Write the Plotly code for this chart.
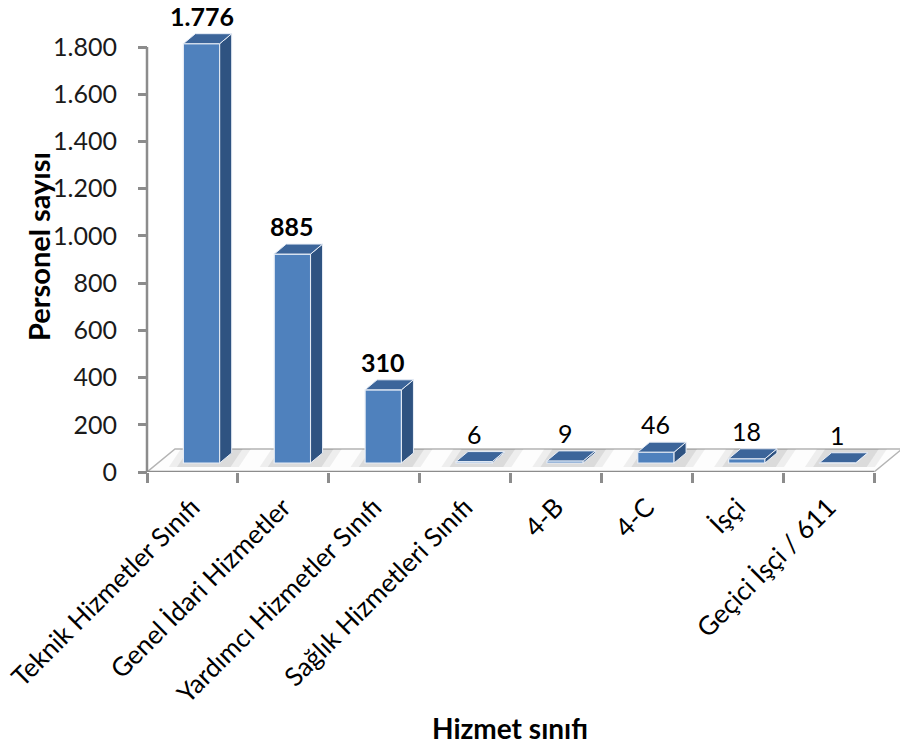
import plotly.graph_objects as go

# ---- data -------------------------------------------------------------
categories = [
    "Teknik Hizmetler Sınıfı",
    "Genel İdari Hizmetler",
    "Yardımcı Hizmetler Sınıfı",
    "Sağlık Hizmetleri Sınıfı",
    "4-B",
    "4-C",
    "İşçi",
    "Geçici İşçi / 611",
]
personnel = [1776, 885, 310, 6, 9, 46, 18, 1]
y_ticks = [0, 200, 400, 600, 800, 1000, 1200, 1400, 1600, 1800]

# ---- geometry (axis units) --------------------------------------------
X_RANGE = [-0.621, 7.786]
Y_RANGE = [0, 1978]
PX_X = 764 / (X_RANGE[1] - X_RANGE[0])      # pixels per category unit
PX_Y = 467 / (Y_RANGE[1] - Y_RANGE[0])      # pixels per value unit

BAR_W = 0.40            # front face width
BAR_SHIFT = 0.10        # front face centre offset from category centre
LIFT = 9 / PX_Y         # bars stand slightly behind the front floor edge
DEP_X = 12 / PX_X       # bar depth (oblique projection)
DEP_Y = 10 / PX_Y
FLOOR_X = 28 / PX_X     # floor depth
FLOOR_Y = 23 / PX_Y

FRONT = "#4F81BD"
SIDE = "#2F5381"
TOP = "#3C659A"
AXIS = "#8C8C8C"
FONT = "Lato"

fig = go.Figure()

# ---- floor and axis lines (shapes below the bars) ----------------------
n = len(categories)
x_left, x_right = -0.5, n - 0.5
shapes = [
    dict(type="path", xref="x", yref="y", layer="below",
         path=(f"M {x_left} 0 L {x_right} 0 L {x_right + FLOOR_X} {FLOOR_Y} "
               f"L {x_left + FLOOR_X} {FLOOR_Y} Z"),
         fillcolor="#FDFDFD", line=dict(color="#B4B4B4", width=1.5)),
    dict(type="line", xref="x", yref="y", layer="below",
         x0=x_left, x1=x_right, y0=0, y1=0,
         line=dict(color=AXIS, width=2.5)),
    dict(type="line", xref="x", yref="y", layer="below",
         x0=x_left, x1=x_left, y0=0, y1=y_ticks[-1],
         line=dict(color=AXIS, width=2.5)),
]

# soft shadows cast on the floor around each bar
for i in range(n):
    xl = i + BAR_SHIFT - BAR_W / 2
    xr = xl + BAR_W
    for grow, alpha in ((0.16, 0.09), (0.07, 0.13)):
        y_lo = LIFT - 4 / PX_Y
        y_hi = LIFT + DEP_Y + 4 / PX_Y
        shapes.append(dict(
            type="path", xref="x", yref="y", layer="below",
            path=(f"M {xl - grow} {y_lo} L {xr + grow + 0.05} {y_lo} "
                  f"L {xr + DEP_X + grow + 0.05} {y_hi} L {xl + DEP_X - grow} {y_hi} Z"),
            fillcolor=f"rgba(90,90,90,{alpha})", line=dict(width=0)))

# ---- bars: front faces --------------------------------------------------
fig.add_trace(go.Bar(
    x=list(range(n)), y=personnel, base=LIFT,
    width=BAR_W, offset=BAR_SHIFT - BAR_W / 2,
    marker=dict(color=FRONT, line=dict(color="#E8EEF7", width=1.2)),
    hoverinfo="skip", showlegend=False,
))

# ---- bars: side and top faces ------------------------------------------
for i, v in enumerate(personnel):
    xl = i + BAR_SHIFT - BAR_W / 2
    xr = xl + BAR_W
    yb, yt = LIFT, LIFT + v
    fig.add_trace(go.Scatter(
        x=[xr, xr + DEP_X, xr + DEP_X, xr, xr],
        y=[yb, yb + DEP_Y, yt + DEP_Y, yt, yb],
        fill="toself", fillcolor=SIDE, mode="lines",
        line=dict(color="#E8EEF7", width=1),
        hoverinfo="skip", showlegend=False))
    fig.add_trace(go.Scatter(
        x=[xl, xr, xr + DEP_X, xl + DEP_X, xl],
        y=[yt, yt, yt + DEP_Y, yt + DEP_Y, yt],
        fill="toself", fillcolor=TOP, mode="lines",
        line=dict(color="#E8EEF7", width=1),
        hoverinfo="skip", showlegend=False))

# ---- value labels -------------------------------------------------------
annotations = []
for i, v in enumerate(personnel):
    txt = f"{v:,}".replace(",", ".")
    if v >= 100:
        txt = f"<b>{txt}</b>"
    annotations.append(dict(
        x=i + BAR_SHIFT, y=LIFT + v + DEP_Y, xref="x", yref="y",
        text=txt, showarrow=False, xanchor="center", yanchor="bottom", yshift=1,
        font=dict(family=FONT, size=25, color="#000000")))

# axis titles
annotations.append(dict(
    x=(510 - 136) / 764, y=1 - (728 - 5) / 467, xref="paper", yref="paper",
    xanchor="center", yanchor="middle",
    text="<b>Hizmet sınıfı</b>", showarrow=False,
    font=dict(family=FONT, size=28, color="#000000")))
annotations.append(dict(
    x=(38 - 136) / 764, y=1 - (247 - 5) / 467, xref="paper", yref="paper",
    xanchor="center", yanchor="middle",
    text="<b>Personel sayısı</b>", showarrow=False, textangle=-90,
    font=dict(family=FONT, size=29, color="#000000")))

fig.update_layout(
    width=900, height=752,
    margin=dict(l=136, r=0, t=5, b=280),
    paper_bgcolor="white", plot_bgcolor="white",
    separators=",.",
    showlegend=False,
    shapes=shapes,
    annotations=annotations,
    font=dict(family=FONT, color="#000000"),
    xaxis=dict(
        range=X_RANGE, showgrid=False, zeroline=False, showline=False,
        tickmode="array", tickvals=list(range(n)), ticktext=categories,
        ticks="", tickangle=-45, ticklabelstandoff=14,
        tickfont=dict(family=FONT, size=26, color="#000000"),
        minor=dict(tickmode="array",
                   tickvals=[k - 0.5 for k in range(n + 1)],
                   ticks="outside", ticklen=10, tickwidth=2.5,
                   tickcolor=AXIS, showgrid=False),
        fixedrange=True,
    ),
    yaxis=dict(
        range=Y_RANGE, anchor="free",
        position=(x_left - X_RANGE[0]) / (X_RANGE[1] - X_RANGE[0]),
        showgrid=False, zeroline=False, showline=False,
        tickmode="array", tickvals=y_ticks, tickformat=",d",
        ticks="outside", ticklen=9, tickwidth=2.5, tickcolor=AXIS,
        ticklabelstandoff=16,
        tickfont=dict(family=FONT, size=25, color="#1A1A1A"),
        fixedrange=True,
    ),
)

fig.write_html("out.html")
